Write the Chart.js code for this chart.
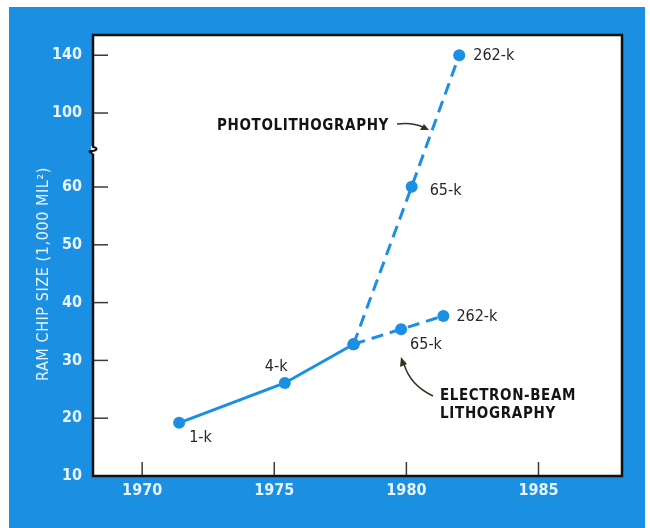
<!DOCTYPE html>
<html>
<head>
<meta charset="utf-8">
<script src="https://cdn.jsdelivr.net/npm/chart.js@4.4.1/dist/chart.umd.min.js"></script>
<style>
  html, body { margin: 0; padding: 0; background: #fff; }
  canvas { display: block; }
</style>
</head>
<body>
<canvas id="chipChart" width="650" height="528"></canvas>
<script>
// Tick labels
const xTicks = [1970, 1975, 1980, 1985];
const yTicks = [10, 20, 30, 40, 50, 60, 100, 140];

// Early chips (solid line)
const earlyYears = [1971.4, 1975.4, 1978.0];
const earlySize = [19.2, 26.1, 32.8];
const earlyLabels = ['1-k', '4-k', ''];

// Photolithography (dashed)
const photoYears = [1978.0, 1980.2, 1982.0];
const photoSize = [32.8, 60.2, 140];
const photoLabels = ['', '65-k', '262-k'];

// Electron-beam lithography (dashed)
const ebeamYears = [1978.0, 1979.8, 1981.4];
const ebeamSize = [32.8, 35.4, 37.7];
const ebeamLabels = ['', '65-k', '262-k'];

const BLUE = '#1b8fe2';
const INK = '#2a2622';
const NARROW = '"Liberation Sans Narrow", "DejaVu Sans Condensed", "Roboto", sans-serif';

// Axis is broken above 60: each tick step is one unit, the last two steps are stretched
const breakSteps = [0, 1, 2, 3, 4, 5, 6.28, 7.28];
function breakAxis(v) {
    for (let i = 1; i < yTicks.length; i++) {
        if (v <= yTicks[i] || i === yTicks.length - 1) {
            const t = (v - yTicks[i - 1]) / (yTicks[i] - yTicks[i - 1]);
            return breakSteps[i - 1] + t * (breakSteps[i] - breakSteps[i - 1]);
        }
    }
}

function toPoints(xs, ys) {
    return xs.map((x, i) => ({ x: x, y: breakAxis(ys[i]) }));
}

// Spread text to a given width with letter spacing
function spacedText(ctx, text, x, y, width) {
    ctx.letterSpacing = '0px';
    const w = ctx.measureText(text).width;
    ctx.letterSpacing = Math.max(0, (width - w) / text.length) + 'px';
    ctx.fillText(text, x, y);
    ctx.letterSpacing = '0px';
}

const framePlugin = {
    id: 'frame',
    beforeDraw(chart) {
        const ctx = chart.ctx;
        const a = chart.chartArea;
        ctx.save();
        ctx.fillStyle = '#ffffff';
        ctx.fillRect(0, 0, chart.width, chart.height);
        ctx.fillStyle = BLUE;
        ctx.fillRect(9, 7, 636, 521);
        ctx.fillStyle = '#ffffff';
        ctx.fillRect(a.left, a.top, a.right - a.left, a.bottom - a.top);
        ctx.restore();
    },
    afterDraw(chart) {
        const ctx = chart.ctx;
        const a = chart.chartArea;
        const xs = chart.scales.x;
        const ys = chart.scales.y;
        ctx.save();

        // inner tick marks
        ctx.strokeStyle = '#3a3a3a';
        ctx.lineWidth = 1.5;
        breakSteps.slice(1).forEach(s => {
            const py = ys.getPixelForValue(s);
            ctx.beginPath();
            ctx.moveTo(a.left, py);
            ctx.lineTo(a.left + 15, py);
            ctx.stroke();
        });
        xTicks.forEach(t => {
            const px = xs.getPixelForValue(t);
            ctx.beginPath();
            ctx.moveTo(px, a.bottom);
            ctx.lineTo(px, a.bottom - 14);
            ctx.stroke();
        });

        // frame
        ctx.strokeStyle = '#111';
        ctx.lineWidth = 2.5;
        ctx.strokeRect(a.left, a.top, a.right - a.left, a.bottom - a.top);

        // axis break
        const by = ys.getPixelForValue(5.64);
        ctx.fillStyle = '#ffffff';
        ctx.fillRect(a.left - 2, by - 4, 5, 8);
        ctx.strokeStyle = '#111';
        ctx.lineWidth = 2;
        ctx.beginPath();
        ctx.moveTo(a.left, by - 5);
        ctx.lineTo(a.left, by - 3);
        ctx.bezierCurveTo(a.left + 6, by - 2, a.left + 4, by + 1, a.left - 3, by + 1);
        ctx.bezierCurveTo(a.left - 5, by + 2, a.left, by + 3, a.left, by + 5);
        ctx.stroke();

        // point labels
        ctx.fillStyle = INK;
        ctx.font = '16px ' + NARROW;
        ctx.textBaseline = 'middle';
        ctx.textAlign = 'left';
        const offsets = [
            [[10, 15], [-20, -16], [0, 0]],
            [[0, 0], [18, 4], [14, 1]],
            [[0, 0], [9, 16], [13, 1]]
        ];
        [earlyLabels, photoLabels, ebeamLabels].forEach((labels, d) => {
            const meta = chart.getDatasetMeta(d);
            labels.forEach((lab, i) => {
                if (!lab) return;
                const p = meta.data[i];
                ctx.fillText(lab, p.x + offsets[d][i][0], p.y + offsets[d][i][1]);
            });
        });

        // annotations
        ctx.font = 'bold 15px ' + NARROW;
        ctx.fillStyle = '#161412';
        spacedText(ctx, 'PHOTOLITHOGRAPHY', 217, 126, 172);
        spacedText(ctx, 'ELECTRON-BEAM', 440, 396, 136);
        spacedText(ctx, 'LITHOGRAPHY', 440, 414, 116);

        // arrows
        ctx.strokeStyle = '#3b3024';
        ctx.fillStyle = '#3b3024';
        ctx.lineWidth = 1.5;
        ctx.beginPath();
        ctx.moveTo(397, 124);
        ctx.quadraticCurveTo(412, 122, 423, 127);
        ctx.stroke();
        ctx.beginPath();
        ctx.moveTo(429, 130);
        ctx.lineTo(420, 130);
        ctx.lineTo(424, 124);
        ctx.closePath();
        ctx.fill();

        ctx.beginPath();
        ctx.moveTo(433, 396);
        ctx.quadraticCurveTo(410, 385, 404, 364);
        ctx.stroke();
        ctx.beginPath();
        ctx.moveTo(401, 357);
        ctx.lineTo(400, 367);
        ctx.lineTo(407, 364);
        ctx.closePath();
        ctx.fill();

        // y axis title
        ctx.translate(44, 274);
        ctx.rotate(-Math.PI / 2);
        ctx.fillStyle = '#e8f4ff';
        ctx.font = '16px ' + NARROW;
        ctx.textAlign = 'left';
        spacedText(ctx, 'RAM CHIP SIZE (1,000 MIL²)', -107, 0, 214);

        ctx.restore();
    }
};

const lineStyle = {
    borderColor: BLUE,
    backgroundColor: BLUE,
    borderWidth: 3,
    pointRadius: 6,
    pointHoverRadius: 6,
    pointBorderWidth: 0,
    tension: 0
};

new Chart(document.getElementById('chipChart'), {
    type: 'line',
    data: {
        datasets: [
            Object.assign({ label: 'Early', data: toPoints(earlyYears, earlySize) }, lineStyle),
            Object.assign({ label: 'Photolithography', data: toPoints(photoYears, photoSize), borderDash: [12, 7] }, lineStyle),
            Object.assign({ label: 'Electron-beam', data: toPoints(ebeamYears, ebeamSize), borderDash: [12, 7] }, lineStyle)
        ]
    },
    options: {
        responsive: false,
        animation: false,
        devicePixelRatio: 1,
        layout: { padding: { top: 35, right: 28, left: 0, bottom: 0 } },
        plugins: { legend: { display: false }, tooltip: { enabled: false } },
        scales: {
            x: {
                type: 'linear',
                min: 1968.14,
                max: 1988.16,
                grid: { display: false, drawTicks: false },
                border: { display: false },
                afterBuildTicks: s => { s.ticks = xTicks.map(v => ({ value: v })); },
                afterFit: s => { s.height = 52; },
                ticks: {
                    color: '#e8f4ff',
                    padding: 5,
                    font: { family: NARROW, size: 16, weight: 'bold' },
                    callback: v => String(v)
                }
            },
            y: {
                type: 'linear',
                min: 0,
                max: 7.63,
                grid: { display: false, drawTicks: false },
                border: { display: false },
                afterBuildTicks: s => { s.ticks = breakSteps.map(v => ({ value: v })); },
                afterFit: s => { s.width = 93; },
                ticks: {
                    color: '#e8f4ff',
                    padding: 11,
                    font: { family: NARROW, size: 16, weight: 'bold' },
                    callback: (v, i) => String(yTicks[i])
                }
            }
        }
    },
    plugins: [framePlugin]
});
</script>
</body>
</html>
